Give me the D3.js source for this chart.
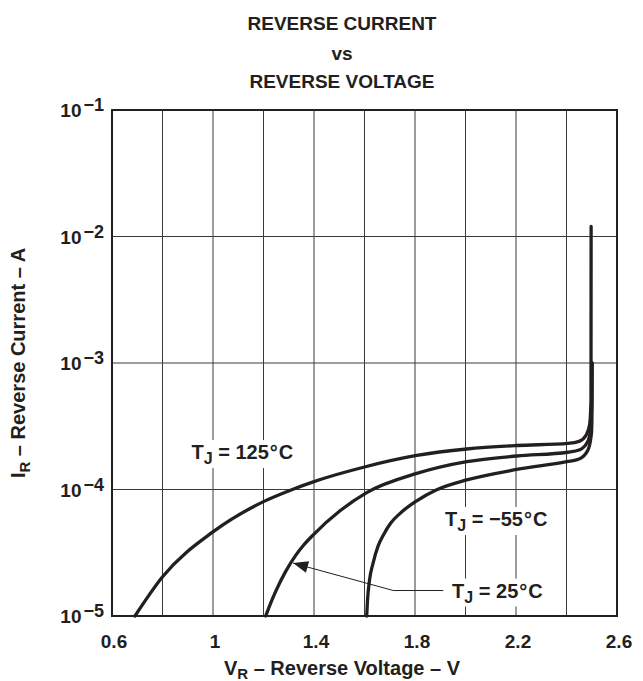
<!DOCTYPE html>
<html>
<head>
<meta charset="utf-8">
<script src="https://cdn.jsdelivr.net/npm/d3@7"></script>
<style>
  body { margin: 0; background: #fff; }
  text { font-family: "Liberation Sans", Arial, Helvetica, sans-serif; font-weight: bold; fill: #231f20; }
</style>
</head>
<body>
<div class="chart"></div>
<script>
var wi = 643;
var he = 681;

// plot box (plain "top" clashes with window.top)
var boxL = 112, boxR = 617, boxT = 110, boxB = 616;

var xGrid = [0.6, 0.8, 1.0, 1.2, 1.4, 1.6, 1.8, 2.0, 2.2, 2.4, 2.6];
var xTicks = [0.6, 1, 1.4, 1.8, 2.2, 2.6];
var yTicks = [1e-5, 1e-4, 1e-3, 1e-2, 1e-1];
var yExps = ["−5", "−4", "−3", "−2", "−1"];

// [V, A]
var curveHot = [
  [0.691, 1.0e-5], [0.801, 2.05e-5], [1.001, 4.64e-5], [1.2, 8.02e-5], [1.317, 1.006e-4],
  [1.4, 1.155e-4], [1.6, 1.506e-4], [1.807, 1.857e-4], [2.005, 2.09e-4], [2.203, 2.227e-4],
  [2.406, 2.314e-4], [2.45, 2.4e-4], [2.478, 2.7e-4], [2.492, 3.3e-4], [2.497, 5e-4],
  [2.4975, 1.2e-2]
];
var curveRoom = [
  [1.2087, 1.0e-5], [1.2257, 1.226e-5], [1.2483, 1.565e-5], [1.2879, 2.252e-5], [1.3275, 3.014e-5],
  [1.3576, 3.608e-5], [1.3972, 4.385e-5], [1.503, 6.786e-5], [1.6087, 9.45e-5], [1.807, 1.34e-4],
  [2.005, 1.66e-4], [2.203, 1.84e-4], [2.405, 1.97e-4], [2.45, 2.05e-4], [2.482, 2.35e-4],
  [2.496, 3.0e-4], [2.4995, 5e-4], [2.5, 1e-3]
];
var curveCold = [
  [1.6087, 1.0e-5], [1.612, 1.34e-5], [1.62, 1.93e-5], [1.634, 2.62e-5], [1.654, 3.58e-5],
  [1.675, 4.37e-5], [1.704, 5.43e-5], [1.741, 6.48e-5], [1.807, 8.14e-5], [1.886, 9.95e-5],
  [2.005, 1.19e-4], [2.203, 1.44e-4], [2.401, 1.66e-4], [2.45, 1.74e-4], [2.485, 2.05e-4],
  [2.499, 2.8e-4], [2.5015, 5e-4], [2.502, 1e-3]
];

// leader for the 25°C label
var leader = [[1.912, 1.59e-5], [1.714, 1.59e-5], [1.317, 2.62e-5]];

var labels = [
  { v: 0.915, a: 1.94e-4, t: "125" },
  { v: 1.919, a: 5.74e-5, t: "−55" },
  { v: 1.947, a: 1.56e-5, t: "25" }
];

var x = d3.scaleLinear().domain([0.6, 2.6]).range([boxL, boxR]);
var y = d3.scaleLog().domain([1e-5, 1e-1]).range([boxB, boxT]);

var svg = d3.select(".chart")
  .append("svg")
  .attr("width", wi)
  .attr("height", he);

// grid
svg.append("g")
  .selectAll("line")
  .data(xGrid)
  .enter()
  .append("line")
  .attr("x1", function(d) { return x(d); })
  .attr("x2", function(d) { return x(d); })
  .attr("y1", boxT)
  .attr("y2", boxB)
  .attr("stroke", "#3a3a3a")
  .attr("stroke-width", 1);

svg.append("g")
  .selectAll("line")
  .data(yTicks)
  .enter()
  .append("line")
  .attr("x1", boxL)
  .attr("x2", boxR)
  .attr("y1", function(d) { return y(d); })
  .attr("y2", function(d) { return y(d); })
  .attr("stroke", "#3a3a3a")
  .attr("stroke-width", 1);

// labels on white patches
var lab = svg.append("g");
labels.forEach(function(l) {
  var g = lab.append("g");
  var t = g.append("text")
    .attr("x", x(l.v))
    .attr("y", y(l.a) + 6)
    .style("font-size", "20px");
  t.append("tspan").text("T");
  t.append("tspan").attr("dy", 5).style("font-size", "16px").text("J");
  t.append("tspan").attr("dy", -5).text(" = " + l.t);
  t.append("tspan").attr("dx", 1).text("°");
  t.append("tspan").attr("dx", 1).text("C");
  var b = t.node().getBBox();
  g.insert("rect", "text")
    .attr("x", b.x - 4)
    .attr("y", b.y - 1)
    .attr("width", b.width + 8)
    .attr("height", b.height + 2)
    .attr("fill", "#fff");
});

// frame
svg.append("rect")
  .attr("x", boxL)
  .attr("y", boxT)
  .attr("width", boxR - boxL)
  .attr("height", boxB - boxT)
  .attr("fill", "none")
  .attr("stroke", "#231f20")
  .attr("stroke-width", 2);

// curves
var line = d3.line()
  .x(function(d) { return x(d[0]); })
  .y(function(d) { return y(d[1]); })
  .curve(d3.curveMonotoneX);

svg.append("g")
  .selectAll("path")
  .data([curveHot, curveRoom, curveCold])
  .enter()
  .append("path")
  .attr("d", line)
  .attr("fill", "none")
  .attr("stroke", "#231f20")
  .attr("stroke-width", 3.3)
  .attr("stroke-linecap", "round");

// leader and arrowhead
svg.append("path")
  .attr("d", d3.line()
    .x(function(d) { return x(d[0]); })
    .y(function(d) { return y(d[1]); })(leader))
  .attr("fill", "none")
  .attr("stroke", "#231f20")
  .attr("stroke-width", 1);

var tip = leader[leader.length - 1], prev = leader[leader.length - 2];
var tx = x(tip[0]), ty = y(tip[1]);
var dx = tx - x(prev[0]), dy = ty - y(prev[1]);
var len = Math.sqrt(dx * dx + dy * dy);
dx /= len; dy /= len;
var aL = 15, aW = 6;
svg.append("polygon")
  .attr("points", [
    [tx, ty],
    [tx - dx * aL - dy * aW, ty - dy * aL + dx * aW],
    [tx - dx * aL + dy * aW, ty - dy * aL - dx * aW]
  ].map(function(p) { return p.join(","); }).join(" "))
  .attr("fill", "#231f20");

// x tick labels
svg.append("g")
  .selectAll("text")
  .data(xTicks)
  .enter()
  .append("text")
  .attr("x", function(d) { return x(d) + 2; })
  .attr("y", 648)
  .attr("text-anchor", "middle")
  .style("font-size", "19px")
  .text(function(d) { return d; });

// y tick labels 10^n
var yl = svg.append("g")
  .selectAll("text")
  .data(yTicks)
  .enter()
  .append("text")
  .attr("x", 104)
  .attr("y", function(d) { return y(d) + 7; })
  .attr("text-anchor", "end")
  .style("font-size", "19px");
yl.append("tspan").text("10");
yl.append("tspan")
  .attr("dx", 2)
  .attr("dy", -6)
  .style("font-size", "18px")
  .text(function(d, i) { return yExps[i]; });

// titles
var title = svg.append("g")
  .attr("text-anchor", "middle")
  .style("font-size", "19px");
title.append("text").attr("x", 342).attr("y", 30).text("REVERSE CURRENT");
title.append("text").attr("x", 342).attr("y", 60).text("vs");
title.append("text").attr("x", 342).attr("y", 88).text("REVERSE VOLTAGE");

var xt = svg.append("text")
  .attr("x", 342)
  .attr("y", 675)
  .attr("text-anchor", "middle")
  .style("font-size", "20px");
xt.append("tspan").text("V");
xt.append("tspan").attr("dy", 4).style("font-size", "15px").text("R");
xt.append("tspan").attr("dy", -4).text(" – Reverse Voltage – V");

var yt = svg.append("text")
  .attr("transform", "translate(25," + ((boxT + boxB) / 2) + ") rotate(-90)")
  .attr("text-anchor", "middle")
  .style("font-size", "20px");
yt.append("tspan").text("I");
yt.append("tspan").attr("dy", 5).style("font-size", "15px").text("R");
yt.append("tspan").attr("dy", -5).text(" – Reverse Current – A");
</script>
</body>
</html>
